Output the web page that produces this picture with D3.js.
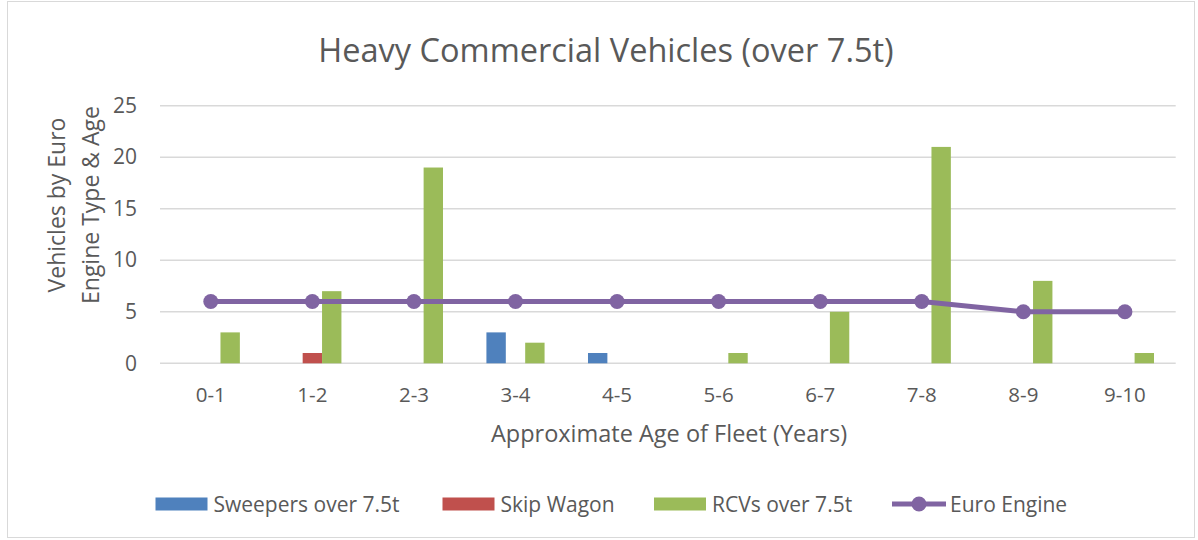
<!DOCTYPE html>
<html>
<head>
<meta charset="utf-8">
<script src="https://cdn.jsdelivr.net/npm/d3@7"></script>
<style>
  html, body { margin: 0; padding: 0; background: #fff; }
  svg { display: block; font-family: "Open Sans", sans-serif; }
</style>
</head>
<body>
<svg id="chart" width="1198" height="540"></svg>
<script>
const categories = ["0-1","1-2","2-3","3-4","4-5","5-6","6-7","7-8","8-9","9-10"];
const seriesNames = ["Sweepers over 7.5t","Skip Wagon","RCVs over 7.5t"];
const sweepers = [0,0,0,3,1,0,0,0,0,0];
const skipWagon = [0,1,0,0,0,0,0,0,0,0];
const rcvs = [3,7,19,2,0,1,5,21,8,1];
const euroEngine = [6,6,6,6,6,6,6,6,5,5];
const yTicks = [0,5,10,15,20,25];
const colors = ["#4f81bd","#c0504d","#9bbb59"];
const lineColor = "#8064a2";

(function(){
const svg = d3.select("#chart");
const textColor = "#595959";

// chart border
svg.append("rect").attr("x",7.5).attr("y",1.5).attr("width",1187).attr("height",536)
  .attr("fill","#fff").attr("stroke","#d9d9d9").attr("stroke-width",1);

const pLeft = 160, pRight = 1175.7, pTop = 105.7, pBottom = 363.3;
const x0 = d3.scaleBand().domain(categories).range([pLeft, pRight]).padding(0);
const x1 = d3.scaleBand().domain(seriesNames).range([0, x0.bandwidth()]).paddingInner(0).paddingOuter(1.12);
const y = d3.scaleLinear().domain([0,25]).range([pBottom, pTop]);

// gridlines
svg.append("g").selectAll("line").data(yTicks).join("line")
  .attr("x1", pLeft).attr("x2", pRight)
  .attr("y1", d => y(d)).attr("y2", d => y(d))
  .attr("stroke", "#d9d9d9").attr("stroke-width", 1.5);

// y axis labels
const yAxis = d3.axisLeft(y).tickValues(yTicks).tickSize(0).tickPadding(0);
const yg = svg.append("g").attr("transform", `translate(137,0)`).call(yAxis);
yg.select(".domain").remove();
yg.selectAll("text").attr("fill", textColor).style("font-size","21px").style("font-family","Open Sans, sans-serif");

// x axis labels
const xAxis = d3.axisBottom(x0).tickSize(0).tickPadding(0);
const xg = svg.append("g").attr("transform", `translate(0,${pBottom})`).call(xAxis);
xg.select(".domain").remove();
xg.selectAll("text").attr("fill", textColor).attr("dy", null).attr("y", 39)
  .style("font-size","20.5px").style("font-family","Open Sans, sans-serif");

// bars
const seriesData = [sweepers, skipWagon, rcvs];
seriesData.forEach((vals, si) => {
  svg.append("g").selectAll("rect").data(vals).join("rect")
    .attr("x", (d,i) => x0(categories[i]) + x1(seriesNames[si]))
    .attr("width", x1.bandwidth())
    .attr("y", d => y(d))
    .attr("height", d => y(0) - y(d))
    .attr("fill", colors[si]);
});

// line
const cx = (i) => x0(categories[i]) + x0.bandwidth()/2;
const line = d3.line().x((d,i) => cx(i)).y(d => y(d));
svg.append("path").datum(euroEngine).attr("d", line)
  .attr("fill","none").attr("stroke", lineColor).attr("stroke-width", 5).attr("stroke-linejoin","round");
svg.append("g").selectAll("circle").data(euroEngine).join("circle")
  .attr("cx", (d,i) => cx(i)).attr("cy", d => y(d)).attr("r", 7.5).attr("fill", lineColor);

// title
svg.append("text").attr("x", 606).attr("y", 62).attr("text-anchor","middle")
  .attr("fill", textColor).style("font-size","32.5px").text("Heavy Commercial Vehicles (over 7.5t)");

// axis titles
svg.append("text").attr("x", 669).attr("y", 442).attr("text-anchor","middle")
  .attr("fill", textColor).style("font-size","23.5px").text("Approximate Age of Fleet (Years)");
const yt = svg.append("text").attr("transform","translate(0,205) rotate(-90)").attr("text-anchor","middle")
  .attr("fill", textColor).style("font-size","23px");
yt.append("tspan").attr("x",0).attr("y",65).text("Vehicles by Euro");
yt.append("tspan").attr("x",0).attr("y",99).text("Engine Type & Age");

// legend
const legendItems = [
  {name: seriesNames[0], type:"bar", color: colors[0], x: 155.5},
  {name: seriesNames[1], type:"bar", color: colors[1], x: 442.5},
  {name: seriesNames[2], type:"bar", color: colors[2], x: 654},
  {name: "Euro Engine", type:"line", color: lineColor, x: 892}
];
const lg = svg.append("g");
legendItems.forEach(it => {
  const g = lg.append("g").attr("transform", `translate(${it.x},504)`);
  if (it.type === "bar") {
    g.append("rect").attr("x",0).attr("y",-6.5).attr("width",52).attr("height",13).attr("fill",it.color);
  } else {
    g.append("line").attr("x1",0).attr("x2",54).attr("y1",0).attr("y2",0).attr("stroke",it.color).attr("stroke-width",5);
    g.append("circle").attr("cx",27).attr("cy",0).attr("r",7.5).attr("fill",it.color);
  }
  g.append("text").attr("x",58).attr("y",8).attr("fill",textColor).style("font-size","21px").text(it.name);
});
})();
</script>
</body>
</html>
